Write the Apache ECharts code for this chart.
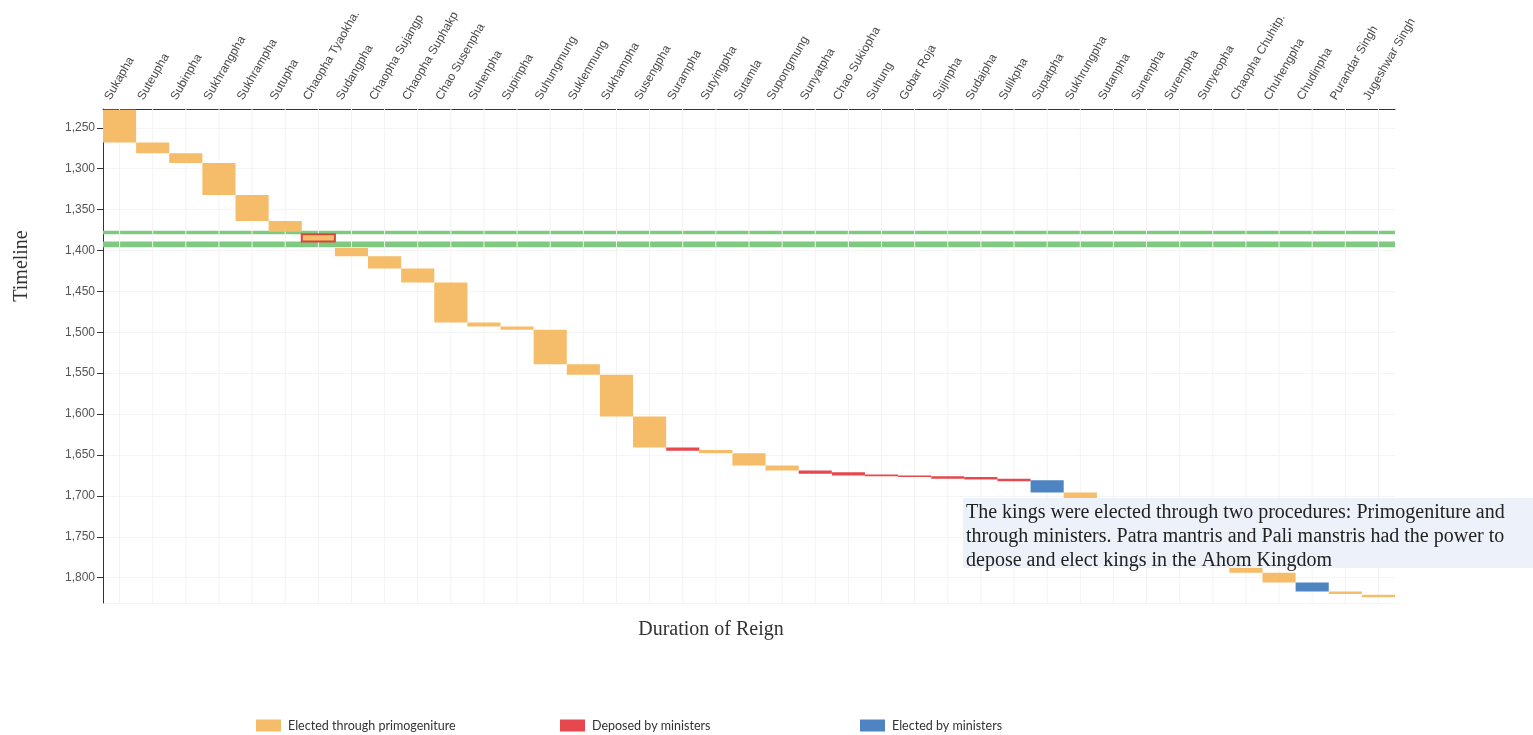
<!DOCTYPE html>
<html><head><meta charset="utf-8">
<script src="https://cdn.jsdelivr.net/npm/echarts@6/dist/echarts.min.js"></script>
<style>html,body{margin:0;padding:0;background:#fff}#c{width:1533px;height:735px}</style>
</head><body><div id="c"></div>
<script>
// ---- data ----
const kings = ['Sukapha','Suteupha','Subinpha','Sukhrangpha','Sukhrampha','Sutupha','Chaopha Tyaokha.','Sudangpha',
  'Chaopha Sujangp','Chaopha Suphakp','Chao Susenpha','Suhenpha','Supinpha','Suhungmung','Suklenmung','Sukhampha',
  'Susengpha','Surampha','Sutyingpha','Sutamla','Supongmung','Sunyatpha','Chao Sukiopha','Suhung','Gobar Roja',
  'Sujinpha','Sudaipha','Sulikpha','Supatpha','Sukhrungpha','Sutanpha','Sunenpha','Surempha','Sunyeopha',
  'Chaopha Chuhitp.','Chuhengpha','Chudinpha','Purandar Singh','Jugeshwar Singh'];
const reignStart = [1228,1268,1281,1293,1332,1364,1380,1397,1407,1422,1439,1488,1493,1497,1539,1552,
  1603,1641,1644,1648,1663,1669,1671,1674,1675,1676,1677,1679,1681,1696,1714,1744,1751,1769,
  1780,1794,1806,1817,1821];
const reignEnd = [1268,1281,1293,1332,1364,1377,1389,1407,1422,1439,1488,1493,1497,1539,1552,1603,
  1641,1645,1648,1663,1669,1673,1675,1676,1677,1679,1680,1682,1696,1714,1744,1751,1769,1780,
  1794,1806,1817,1820,1824];
const procedure = ['P','P','P','P','P','P','P','P','P','P','P','P','P','P','P','P',
  'P','D','P','P','P','D','D','D','D','D','D','D','E','P','P','P','P','P',
  'P','P','E','P','P'];
const procedureNames = {P:'Elected through primogeniture', D:'Deposed by ministers', E:'Elected by ministers'};
const procedureColors = {P:'#f5bc69', D:'#e5484d', E:'#4f84c3'};
const highlighted = ['Chaopha Tyaokha.'];
const interregna = [[1376,1380],[1389,1396]];
const yMin = 1227, yMax = 1831;
const noteLines = ['The kings were elected through two procedures: Primogeniture and',
  'through ministers. Patra mantris and Pali manstris had the power to',
  'depose and elect kings in the Ahom Kingdom'];

// ---- chart ----
const GL = 103, GR = 138, GT = 109, GB = 132, LBL_SHIFT = 12;
const chart = echarts.init(document.getElementById('c'));

function barItem(params, api){
  const i = api.value(0);
  const s = api.coord([i, api.value(1)]);
  const e = api.coord([i, api.value(2)]);
  const bw = api.size([1, 0])[0];
  const hl = api.value(3) === 1;
  const st = api.style();
  if (hl) { st.stroke = '#d6483c'; st.lineWidth = 2; }
  return {type:'rect', shape:{x:s[0]-bw/2, y:s[1], width:bw, height:Math.max(e[1]-s[1], 1.5)}, style:st};
}

const series = [];
series.push({
  type:'custom', name:'grid', z:1, silent:true, xAxisIndex:0, yAxisIndex:0,
  data: kings.map((k,i)=>[i]),
  renderItem:(params, api)=>{
    const a = api.coord([api.value(0), yMin]);
    const b = api.coord([api.value(0), yMax]);
    return {type:'line', shape:{x1:a[0],y1:a[1],x2:b[0],y2:b[1]}, style:{stroke:'#f3f3f3', lineWidth:1}};
  },
  markArea:{silent:true, itemStyle:{color:'#80c980', opacity:1},
    data: interregna.map(r=>[{yAxis:r[0]},{yAxis:r[1]}])}
});
['P','D','E'].forEach(code=>{
  const data = [];
  kings.forEach((k,i)=>{ if (procedure[i]===code) data.push([i, reignStart[i], reignEnd[i], highlighted.includes(k)?1:0]); });
  series.push({type:'custom', name:procedureNames[code], z:3, xAxisIndex:0, yAxisIndex:0,
    itemStyle:{color:procedureColors[code]}, encode:{x:0, y:[1,2]}, data, renderItem:barItem});
});

const legendCommon = {icon:'rect', itemWidth:25, itemHeight:12, top:719, itemGap:0, padding:0,
  textStyle:{fontFamily:'Lato', fontSize:12.5, color:'#333', padding:[0,0,0,2]}};

chart.setOption({
  animation:false,
  grid:[{left:GL, right:GR, top:GT, bottom:GB},
        {left:GL-LBL_SHIFT, right:GR+LBL_SHIFT, top:GT, bottom:GB}],
  xAxis:[
    {type:'category', gridIndex:0, position:'top', data:kings, boundaryGap:true,
     axisLine:{lineStyle:{color:'#333'}}, axisTick:{alignWithLabel:true, length:6, lineStyle:{color:'#333'}},
     axisLabel:{show:false}, splitLine:{show:false}},
    {type:'category', gridIndex:1, position:'top', data:kings, boundaryGap:true,
     axisLine:{show:false}, axisTick:{show:false}, splitLine:{show:false},
     axisLabel:{interval:0, rotate:-60, margin:10, fontFamily:'Liberation Sans', fontSize:12, color:'#4a4a4a'}}
  ],
  yAxis:[
    {type:'value', gridIndex:0, inverse:true, min:yMin, max:yMax, splitNumber:12, minInterval:50, maxInterval:50,
     axisLine:{show:true, lineStyle:{color:'#333'}}, axisTick:{show:true, length:6, lineStyle:{color:'#333'}},
     axisLabel:{showMinLabel:false, showMaxLabel:false, margin:8, fontFamily:'Liberation Sans', fontSize:12, color:'#555',
       formatter:v=>v.toLocaleString('en-US')},
     splitLine:{show:true, lineStyle:{color:'#f5f5f5'}}},
    {type:'value', gridIndex:1, show:false, min:yMin, max:yMax, inverse:true}
  ],
  legend:[
    Object.assign({left:256, data:[procedureNames.P]}, legendCommon),
    Object.assign({left:560, data:[procedureNames.D]}, legendCommon),
    Object.assign({left:860, data:[procedureNames.E]}, legendCommon)
  ],
  graphic:[
    {type:'text', x:22, y:266, rotation:Math.PI/2, z:10,
     style:{text:'Timeline', fontFamily:'Liberation Serif', fontSize:20, fill:'#333', textAlign:'center', textVerticalAlign:'middle'}},
    {type:'text', x:711, y:630, z:10,
     style:{text:'Duration of Reign', fontFamily:'Liberation Serif', fontSize:20, fill:'#333', textAlign:'center', textVerticalAlign:'middle'}},
    {type:'group', x:963, y:498, z:100, children:[
      {type:'rect', shape:{x:0, y:0, width:570, height:70}, style:{fill:'#edf1f9'}, z:100},
      {type:'text', x:3, y:3, z:101, style:{text:noteLines.join('\n'), fontFamily:'Liberation Serif', fontSize:20, lineHeight:24, fill:'#222'}}
    ]}
  ],
  series
});
</script></body></html>
